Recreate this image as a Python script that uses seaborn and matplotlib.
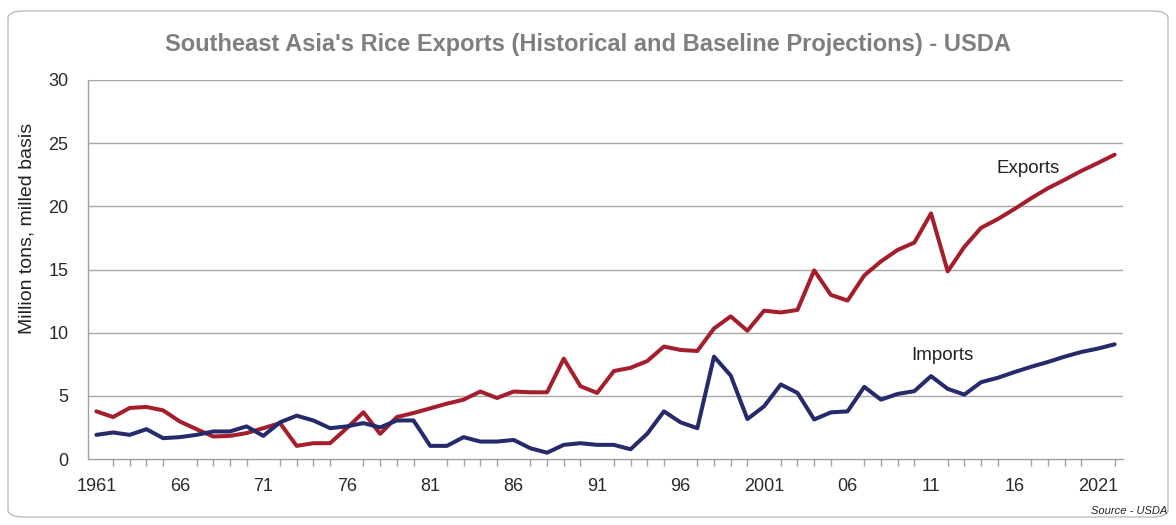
import numpy as np
import pandas as pd
import matplotlib
matplotlib.use("Agg")
import matplotlib.pyplot as plt
from matplotlib.patches import FancyBboxPatch
import seaborn as sns

years = list(range(1961, 2023))
exports = [3.77, 3.32, 4.04, 4.12, 3.85, 2.97, 2.36, 1.78, 1.83, 2.05,
           2.44, 2.84, 1.04, 1.25, 1.25, 2.44, 3.70, 1.99, 3.32, 3.64,
           4.01, 4.38, 4.70, 5.34, 4.83, 5.34, 5.28, 5.28, 7.94, 5.76,
           5.23, 6.96, 7.22, 7.75, 8.90, 8.63, 8.55, 10.33, 11.29, 10.15,
           11.74, 11.60, 11.80, 14.93, 12.99, 12.54, 14.53, 15.64, 16.55, 17.13,
           19.44, 14.85, 16.80, 18.30, 18.99, 19.79, 20.64, 21.43, 22.10, 22.80,
           23.43, 24.09]
imports = [1.91, 2.10, 1.91, 2.36, 1.65, 1.73, 1.91, 2.18, 2.18, 2.58,
           1.83, 2.90, 3.43, 3.05, 2.44, 2.58, 2.84, 2.50, 3.05, 3.05,
           1.04, 1.04, 1.73, 1.38, 1.38, 1.51, 0.85, 0.50, 1.12, 1.25,
           1.12, 1.12, 0.77, 2.00, 3.77, 2.90, 2.44, 8.10, 6.61, 3.16,
           4.17, 5.90, 5.23, 3.13, 3.69, 3.77, 5.71, 4.70, 5.15, 5.37,
           6.56, 5.55, 5.10, 6.08, 6.43, 6.88, 7.30, 7.68, 8.10, 8.47,
           8.74, 9.08]
tick_years = list(range(1961, 2022, 5))
tick_labels = ["1961", "66", "71", "76", "81", "86", "91", "96",
               "2001", "06", "11", "16", "2021"]
y_ticks = [0, 5, 10, 15, 20, 25, 30]

df = pd.DataFrame({
    "Year": years * 2,
    "Value": exports + imports,
    "Series": ["Exports"] * len(years) + ["Imports"] * len(years),
})

sns.set_style("white")
plt.rcParams["font.family"] = ["Liberation Sans", "DejaVu Sans"]

fig = plt.figure(figsize=(11.76, 5.25), dpi=100)
ax = fig.add_axes([88 / 1176, 1 - 459 / 525, (1123 - 88) / 1176, (459 - 80) / 525])

# rounded frame
frame = FancyBboxPatch((8 / 1176, 8 / 525), 1160 / 1176, 506 / 525,
                       boxstyle="round,pad=0,rounding_size=0.014",
                       transform=fig.transFigure, facecolor="none",
                       edgecolor="#bdbdbd", linewidth=1.0, zorder=-1)
fig.patches.append(frame)

palette = {"Exports": "#a41e2b", "Imports": "#252a6b"}
sns.lineplot(data=df, x="Year", y="Value", hue="Series", palette=palette,
             linewidth=2.9, legend=False, ax=ax, zorder=3)

ax.set_xlim(1960.5, 2022.5)
ax.set_ylim(0, 30)
ax.set_yticks(y_ticks)
ax.set_yticklabels([str(v) for v in y_ticks])
ax.set_xticks(tick_years)
ax.set_xticklabels(tick_labels)
ax.set_xticks(years, minor=True)

for y in y_ticks[1:]:
    ax.axhline(y, color="#a8a8a8", linewidth=1.0, zorder=1)

for side in ["top", "right"]:
    ax.spines[side].set_visible(False)
for side in ["left", "bottom"]:
    ax.spines[side].set_color("#a0a0a0")
    ax.spines[side].set_linewidth(1.0)

ax.tick_params(axis="x", which="both", direction="out", length=5,
               color="#a0a0a0", width=1.0, labelsize=13, labelcolor="#2a2a2a", pad=9)
ax.tick_params(axis="y", which="major", direction="out", length=11,
               color="#a0a0a0", width=1.0, labelsize=13, labelcolor="#2a2a2a", pad=3)
ax.tick_params(axis="x", which="minor", bottom=True)

ax.set_xlabel("")
ax.set_ylabel("Million tons, milled basis", fontsize=14, color="#222222")
ax.yaxis.set_label_coords(-0.051, 0.609)

fig.text(0.5, 1 - 44 / 525, "Southeast Asia's Rice Exports (Historical and Baseline Projections) - USDA",
         ha="center", va="center", fontsize=17, fontweight="bold", color="#7f7f7f")

ax.text(2016.8, 23.0, "Exports", ha="center", va="center", fontsize=13.5, color="#222222")
ax.text(2011.7, 8.2, "Imports", ha="center", va="center", fontsize=13.5, color="#222222")

fig.text(1167 / 1176, 1 - 511 / 525, "Source - USDA", ha="right", va="center",
         fontsize=8, style="italic", color="#222222")

fig.savefig("out.png", dpi=100)
